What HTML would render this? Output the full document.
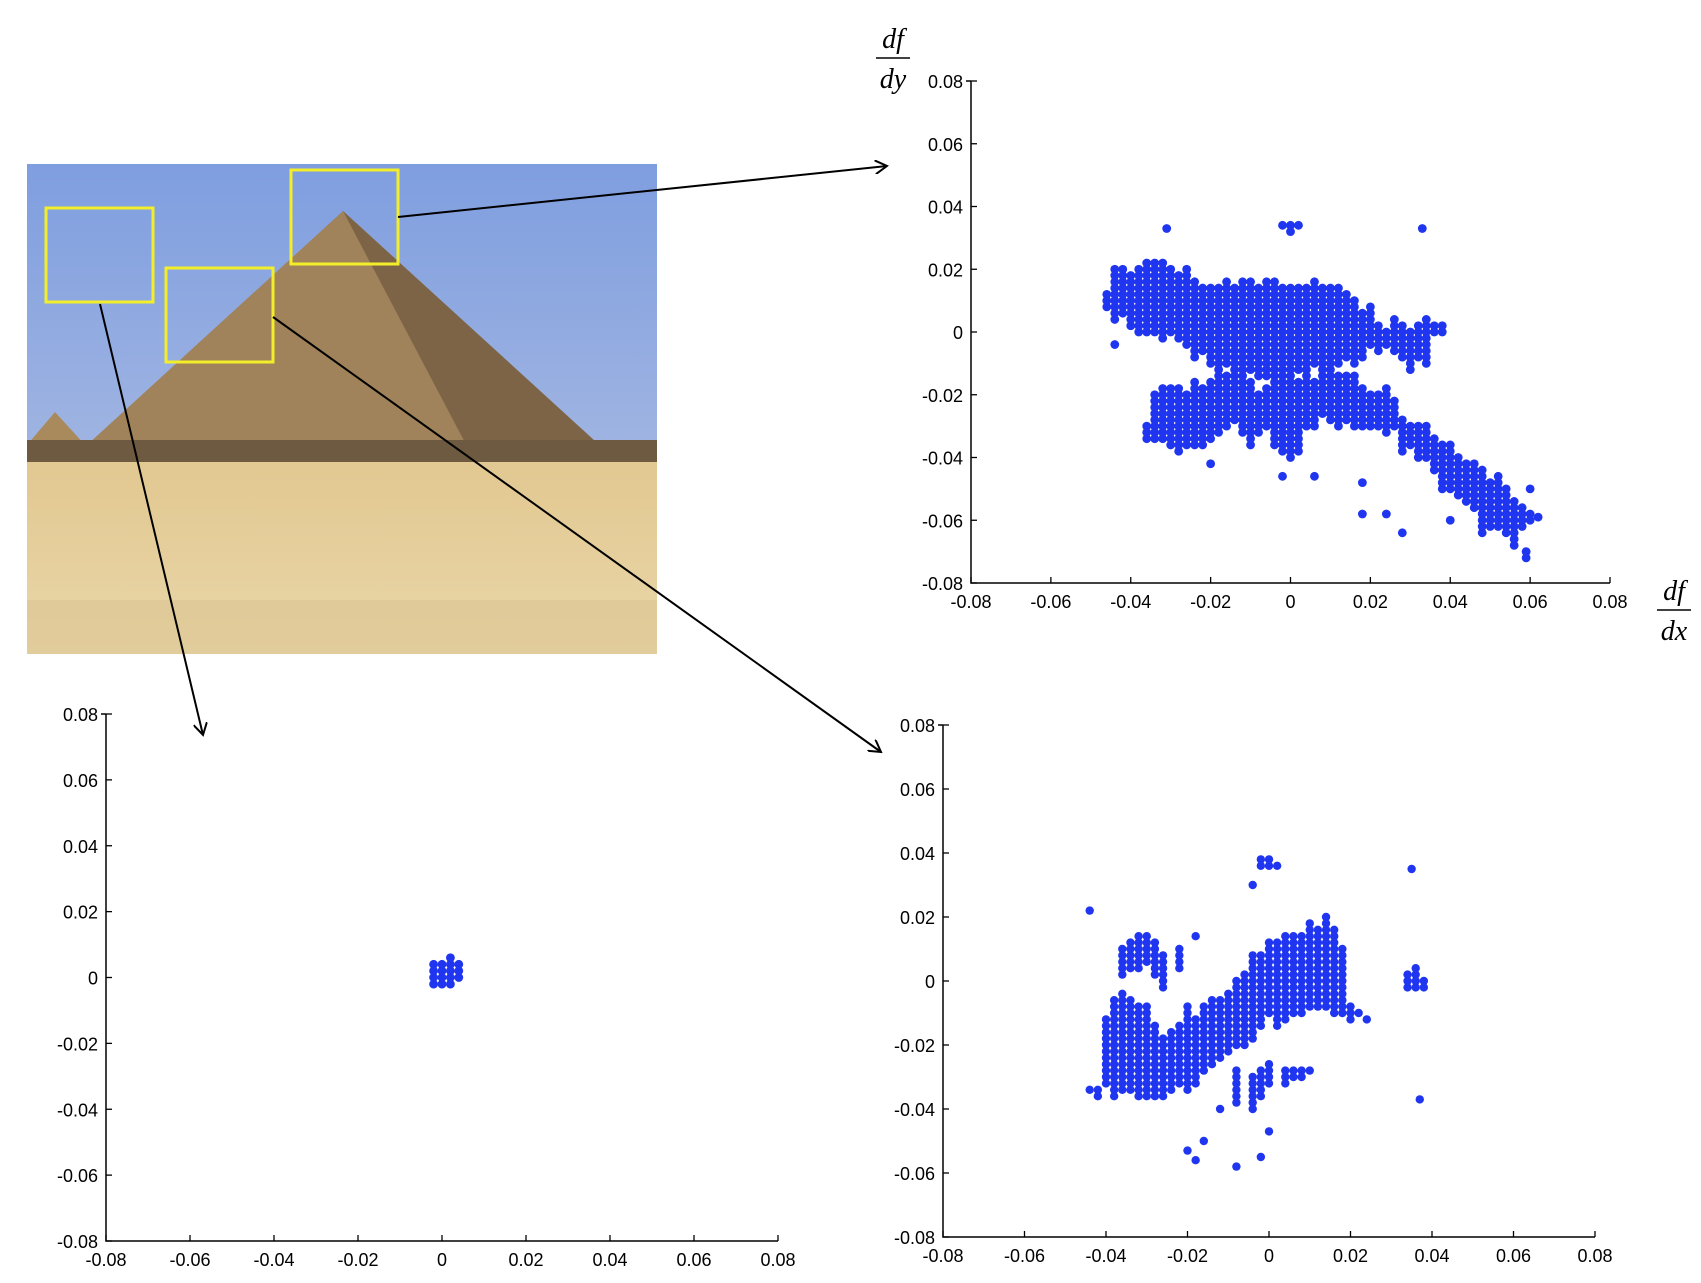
<!DOCTYPE html>
<html><head><meta charset="utf-8"><style>
body{margin:0;background:#fff;}
svg{display:block;font-family:"Liberation Sans",sans-serif;}
</style></head><body>
<svg id="fig" width="1701" height="1283" viewBox="0 0 1701 1283" xmlns="http://www.w3.org/2000/svg">
<defs>
<linearGradient id="sky" x1="0" y1="0" x2="0" y2="1"><stop offset="0" stop-color="#7f9ee0"/><stop offset="1" stop-color="#b6c4e2"/></linearGradient>
<linearGradient id="sand" x1="0" y1="0" x2="0" y2="1"><stop offset="0" stop-color="#e2c891"/><stop offset="1" stop-color="#e9d6a8"/></linearGradient>
<marker id="ah" markerWidth="14" markerHeight="14" refX="12" refY="7" orient="auto" markerUnits="userSpaceOnUse"><path d="M0,0 L12,7 L0,14" fill="none" stroke="#000" stroke-width="2"/></marker>
</defs>
<g>
<rect x="27" y="164" width="630" height="490" fill="url(#sky)"/>
<polygon points="27,445 55,412 85,445" fill="#a88a5c"/>
<polygon points="87,445 343,211 607,452" fill="#a0835a"/>
<polygon points="343,211 607,452 470,452" fill="#7d6446"/>
<rect x="27" y="440" width="630" height="30" fill="#6d5a40"/>
<rect x="27" y="462" width="630" height="192" fill="url(#sand)"/>
<rect x="27" y="600" width="630" height="54" fill="#dcc493" opacity="0.6"/>
</g>
<g fill="none" stroke="#f2ee2a" stroke-width="3">
<rect x="46" y="208" width="107" height="94"/>
<rect x="166" y="268" width="107" height="94"/>
<rect x="291" y="170" width="107" height="94"/>
</g>
<g stroke="#000" stroke-width="2" fill="none">
<line x1="398" y1="217" x2="887" y2="166" marker-end="url(#ah)"/>
<line x1="100" y1="304" x2="203" y2="735" marker-end="url(#ah)"/>
<line x1="273" y1="317" x2="881" y2="752" marker-end="url(#ah)"/>
</g>
<g font-family="Liberation Serif,serif" font-style="italic" font-size="28">
<text x="893" y="48" text-anchor="middle">df</text>
<line x1="876" y1="58" x2="910" y2="58" stroke="#000" stroke-width="1.5"/>
<text x="893" y="88" text-anchor="middle">dy</text>
<text x="1674" y="600" text-anchor="middle">df</text>
<line x1="1657" y1="610" x2="1691" y2="610" stroke="#000" stroke-width="1.5"/>
<text x="1674" y="640" text-anchor="middle">dx</text>
</g>
<g id="plots"></g>
</svg>
<script>
// tick values
const ticks = [-0.08,-0.06,-0.04,-0.02,0,0.02,0.04,0.06,0.08];
const tickLabels = ["-0.08","-0.06","-0.04","-0.02","0","0.02","0.04","0.06","0.08"];
// apex region: column segments [x, yLow, yHigh] in thousandths, grid step 2
const apexCols = [[-46,8,12],[-44,4,20],[-42,6,20],[-40,2,18],[-38,0,20],[-36,0,22],[-34,0,22],[-32,-2,22],[-30,0,20],[-28,-2,18],[-26,-4,20],[-24,-8,16],[-22,-6,14],[-20,-10,14],[-18,-12,14],[-16,-10,16],[-14,-14,14],[-12,-14,16],[-10,-12,16],[-8,-14,14],[-6,-14,16],[-4,-16,16],[-2,-14,14],[0,-14,14],[2,-12,14],[4,-14,14],[6,-10,16],[8,-14,14],[10,-12,14],[12,-10,14],[14,-8,12],[16,-10,10],[18,-8,6],[20,-4,8],[22,-6,2],[24,-4,0],[26,-6,4],[28,-8,2],[30,-12,0],[32,-8,2],[34,-10,4],[36,0,2],[38,0,2],
[-36,-34,-30],[-34,-34,-20],[-32,-34,-18],[-30,-36,-18],[-28,-38,-18],[-26,-36,-20],[-24,-36,-16],[-22,-36,-18],[-20,-34,-16],[-18,-32,-14],[-16,-30,-14],[-14,-28,-16],[-12,-32,-16],[-10,-36,-16],[-8,-32,-20],[-6,-30,-18],[-4,-36,-18],[-2,-38,-16],[0,-40,-16],[2,-38,-16],[4,-30,-16],[6,-30,-16],[8,-26,-16],[10,-28,-14],[12,-30,-14],[14,-28,-14],[16,-30,-14],[18,-30,-18],[20,-30,-20],[22,-30,-20],[24,-32,-18],[26,-30,-22],[28,-38,-28],[30,-36,-30],[32,-40,-30],[34,-40,-30],[36,-44,-34],[38,-50,-36],[40,-50,-36],[42,-52,-40],[44,-54,-42],[46,-56,-42],[48,-64,-44],[50,-62,-48],[52,-62,-46],[54,-64,-50],[56,-68,-54],[58,-62,-56],[60,-60,-58]];
const apexPts = [[-31,33],[0,34],[-2,34],[2,34],[0,32],[33,33],[-44,-4],[-20,-42],[-2,-46],[6,-46],[18,-48],[18,-58],[24,-58],[28,-64],[40,-60],[59,-72],[59,-70],[62,-59],[60,-50]];
// sky region
const skyCols = [[-2,-2,4],[0,-2,4],[2,-2,4],[4,0,4]];
const skyPts = [[2,6]];
// edge region
const edgeCols = [[-42,-36,-34],[-40,-32,-12],[-38,-36,-6],[-36,-34,-4],[-34,-34,-6],[-32,-36,-8],[-30,-36,-8],[-28,-36,-14],[-26,-36,-18],[-24,-34,-16],[-22,-32,-14],[-20,-34,-8],[-18,-32,-12],[-16,-28,-8],[-14,-26,-6],[-12,-24,-6],[-10,-22,-4],[-8,-20,0],[-6,-20,2],[-4,-18,8],[-2,-14,8],[0,-10,12],[2,-14,12],[4,-12,14],[6,-10,14],[8,-10,14],[10,-8,18],[12,-8,16],[14,-8,20],[16,-10,16],[18,-10,10],[20,-12,-8],
[-36,2,10],[-34,4,12],[-32,4,14],[-30,6,14],[-28,2,12],[-26,-2,8],[-22,4,10],
[-8,-38,-28],[-4,-40,-30],[-2,-36,-28],[0,-32,-26],[4,-32,-28],[6,-30,-28],[8,-30,-28],[10,-28,-28],
[34,-2,2],[36,-2,4],[38,-2,0],[-2,36,38],[0,36,38],[2,36,36]];
const edgePts = [[-44,-34],[-44,22],[35,35],[37,-37],[-4,30],[-18,14],[-16,-50],[-20,-53],[-18,-56],[-8,-58],[-2,-55],[0,-47],[-12,-40],[22,-10],[24,-12]];

const plots = [
 {name:'apex-scatter', x0:971, x1:1610, y0:583, y1:81, cols:apexCols, pts:apexPts, r:4.4},
 {name:'sky-scatter', x0:106, x1:778, y0:1241, y1:714, cols:skyCols, pts:skyPts, r:4.4},
 {name:'edge-scatter', x0:943, x1:1595, y0:1237, y1:725, cols:edgeCols, pts:edgePts, r:4.2}
];
const NS='http://www.w3.org/2000/svg';
const root=document.getElementById('plots');
function mk(t,a,p){const e=document.createElementNS(NS,t);for(const k in a)e.setAttribute(k,a[k]);p.appendChild(e);return e;}
plots.forEach(P=>{
 const xs=v=>P.x0+(v+0.08)/0.16*(P.x1-P.x0);
 const ys=v=>P.y0-(v+0.08)/0.16*(P.y0-P.y1);
 const g=mk('g',{},root);
 
 
 const ax=mk('path',{d:`M${P.x0},${P.y1}H${P.x0-5}M${P.x0},${P.y1}V${P.y0}H${P.x1}`,stroke:'#000','stroke-width':1.5,fill:'none'},g);
 
 
 ticks.forEach((t,i)=>{
  mk('line',{x1:xs(t),x2:xs(t),y1:P.y0,y2:P.y0-6,stroke:'#000','stroke-width':1.3},g);
  mk('line',{x1:P.x0,x2:P.x0+6,y1:ys(t),y2:ys(t),stroke:'#000','stroke-width':1.3},g);
  const tx=mk('text',{x:xs(t),y:P.y0+25,'text-anchor':'middle','font-size':18},g);
  tx.textContent=tickLabels[i];
  
  
  const ty=mk('text',{x:P.x0-8,y:ys(t)+7,'text-anchor':'end','font-size':18},g);
  ty.textContent=tickLabels[i];
  
  
 });
 const dots=mk('g',{fill:'#1f35f0'},g);
 P.cols.forEach(c=>{for(let y=c[1];y<=c[2];y+=2){const d=mk('circle',{cx:xs(c[0]/1000),cy:ys(y/1000),r:P.r},dots);
  
  }});
 P.pts.forEach(p=>{const d=mk('circle',{cx:xs(p[0]/1000),cy:ys(p[1]/1000),r:P.r},dots);
  
  });
});
</script>
</body></html>
